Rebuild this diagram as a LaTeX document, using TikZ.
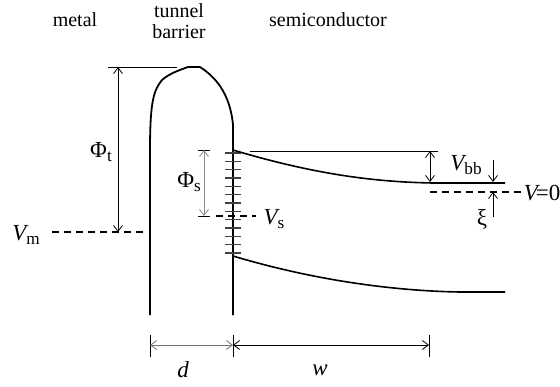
\documentclass[tikz,border=0pt]{standalone}
\usepackage{fontspec}
\setmainfont{Liberation Serif}
\usetikzlibrary{arrows.meta}
\newcommand\mysub[1]{\raisebox{-0.35ex}{\fontsize{8.6}{9}\selectfont #1}}
\begin{document}
\begin{tikzpicture}[x=0.5pt,y=-0.5pt,
  lbl/.style={font=\fontsize{10}{10.5}\selectfont, inner sep=0pt},
  mlbl/.style={font=\fontsize{11.5}{12}\selectfont, inner sep=0pt},
  wall/.style={line width=0.9pt, line join=round},
  band/.style={line width=0.8pt},
  thin/.style={line width=0.4pt},
  dimboth/.style={thin, {Straight Barb[length=3pt,width=4.5pt]}-{Straight Barb[length=3pt,width=4.5pt]}},
  dimto/.style={thin, -{Straight Barb[length=3pt,width=4.5pt]}},
  dashline/.style={line width=0.7pt, dash pattern=on 3.5pt off 2.5pt},
  sstate/.style={line width=0.7pt, black!75}]
\useasboundingbox (0,0) rectangle (560,386);

% labels
\node[lbl] (metal) at (75,20) {metal};
\node[lbl, align=center] (tb) at (179,21) {tunnel\\barrier};
\node[lbl] (semi) at (328,20) {semiconductor};

% barrier
\coordinate (bl) at (150,315);
\coordinate (br) at (233,315);
\draw[wall] (bl) -- (150,150) .. controls (150,100) and (154,90) .. (162,80)
  .. controls (170,73) and (180,70) .. (188,67) -- (200,67)
  .. controls (214,76) and (230,92) .. (233,125) -- (br);

% Phi_t
\coordinate (pttop) at (118,67);
\coordinate (ptbot) at (118,232);
\coordinate (ptl) at (108,67);
\coordinate (ptr) at (177,67);
\draw[thin] (ptl) -- (ptr);
\draw[dimboth] (pttop) -- (ptbot);
\node[mlbl] (phit) at (101,152) {Φ\mysub{t}};

% V_m
\node[mlbl] (vm) at (26,235) {{\itshape V}\mysub{m}};
\coordinate (vm1) at (52,232);
\coordinate (vm2) at (145,232);
\draw[dashline] (vm1) -- (vm2);

% Phi_s
\coordinate (pstop) at (204,150);
\coordinate (psbot) at (204,216);
\draw[thin] (198,150) -- (210,150);
\draw[thin] (198,216) -- (210,216);
\draw[dimboth, black!45] (pstop) -- (psbot);
\node[mlbl] (phis) at (189,182) {Φ\mysub{s}};

% V_s
\coordinate (vs1) at (216,216);
\coordinate (vs2) at (256,216);
\draw[dashline] (vs1) -- (vs2);
\node[mlbl] (vs) at (274,219) {{\itshape V}\mysub{s}};

% surface states
\foreach \i in {0,...,12} {
  \draw[sstate] (225,{153+8.33*\i}) -- (241,{153+8.33*\i});
}

% conduction band
\coordinate (cb0) at (233,150);
\coordinate (cb1) at (433,183);
\coordinate (cb2) at (505,183);
\draw[band] (cb0) .. controls (320,176) and (380,182) .. (cb1) -- (cb2);
\coordinate (ref1) at (250,151);
\coordinate (ref2) at (438,151);
\draw[thin] (ref1) -- (ref2);

% valence band
\coordinate (vb0) at (233,256);
\coordinate (vb1) at (460,292);
\coordinate (vb2) at (505,292);
\draw[band] (vb0) .. controls (320,282) and (400,291) .. (vb1) -- (vb2);

% V_bb
\coordinate (vbbtop) at (430,151);
\coordinate (vbbbot) at (430,182);
\draw[dimboth] (vbbtop) -- (vbbbot);
\node[mlbl] (vbb) at (466,165) {{\itshape V}\mysub{bb}};

% V=0
\coordinate (v01) at (430,192);
\coordinate (v02) at (522,192);
\draw[dashline] (v01) -- (v02);
\node[mlbl] (vzero) at (542,193) {{\itshape V}\kern-1pt=0};

% xi
\coordinate (xia) at (493,160);
\coordinate (xib) at (493,182);
\coordinate (xic) at (493,217);
\coordinate (xid) at (493,192);
\draw[dimto] (xia) -- (xib);
\draw[dimto] (xic) -- (xid);
\node[mlbl] (xi) at (482,219) {ξ};

% d and w
\coordinate (d1) at (150,345);
\coordinate (d2) at (233,345);
\coordinate (w2) at (429,345);
\draw[thin] (150,335) -- (150,357);
\draw[thin] (233,335) -- (233,357);
\draw[thin] (429,335) -- (429,357);
\draw[dimboth, black!55] (d1) -- (d2);
\draw[dimboth] (d2) -- (w2);
\node[mlbl] (d) at (183,370) {\itshape d};
\node[mlbl] (w) at (320,370) {\itshape w};
\end{tikzpicture}
\end{document}
